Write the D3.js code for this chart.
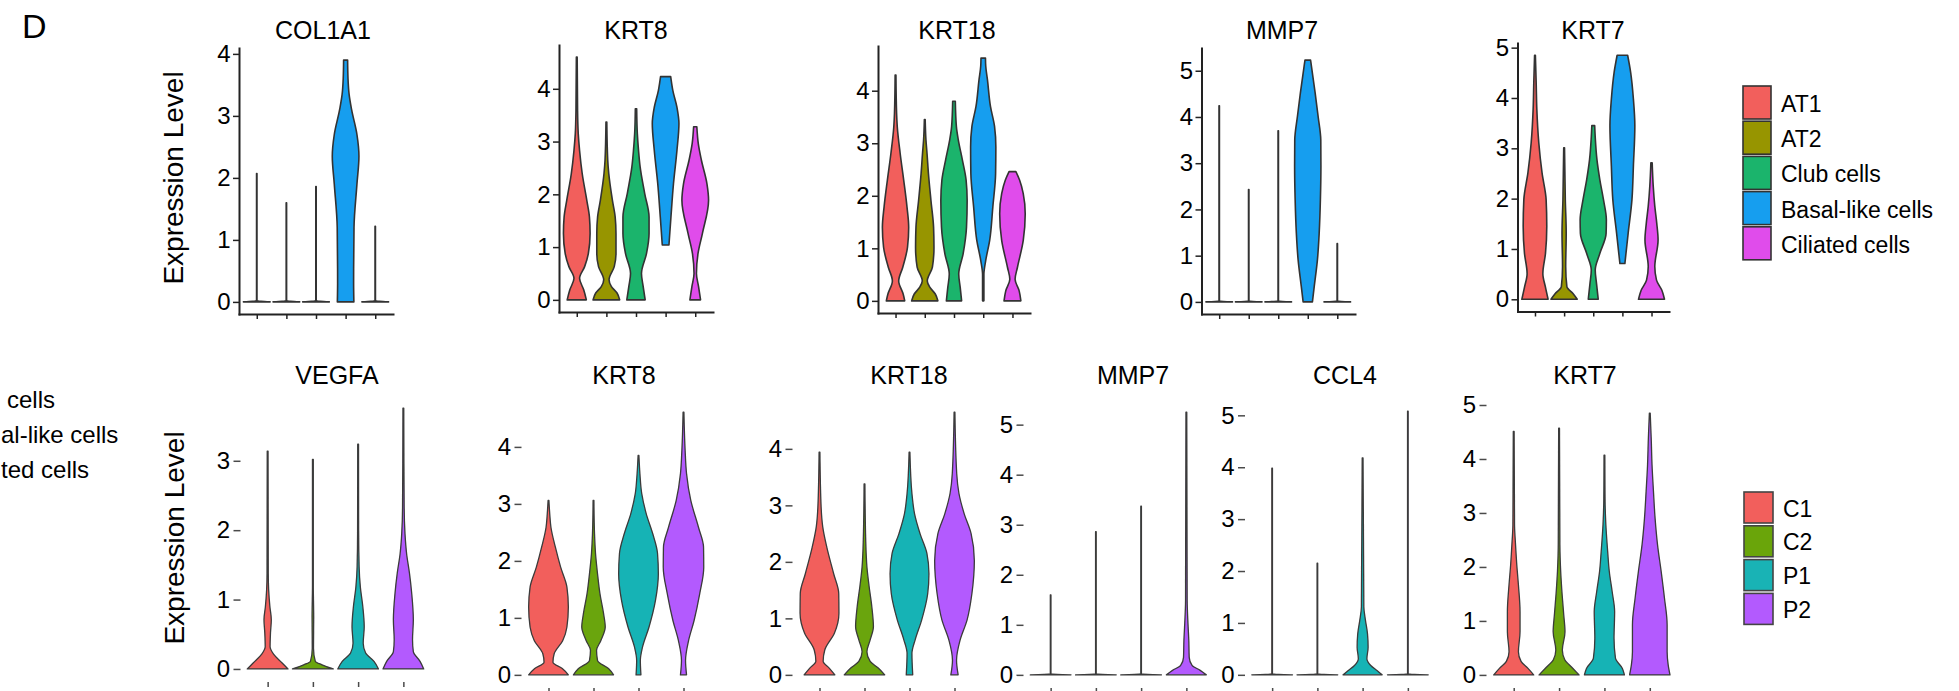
<!DOCTYPE html>
<html><head><meta charset="utf-8">
<script src="https://cdn.jsdelivr.net/npm/d3@7"></script>
<style>
html,body{margin:0;padding:0;background:#fff;overflow:hidden}
svg{display:block}
text{font-family:"Liberation Sans",Arial,Helvetica,sans-serif;fill:#000}
</style></head><body>
<svg id="chart" width="1959" height="691"></svg>
<script>
// ================= DATA =================
const topGroups = ["AT1", "AT2", "Club cells", "Basal-like cells", "Ciliated cells"];
const topColors = ["#F25F5C", "#979500", "#1BB46C", "#169EEF", "#E04CEB"];
const bottomGroups = ["C1", "C2", "P1", "P2"];
const bottomColors = ["#F25F5C", "#6AA50A", "#19B3B5", "#B35AFE"];

const topGenes = ["COL1A1", "KRT8", "KRT18", "MMP7", "KRT7"];
const bottomGenes = ["VEGFA", "KRT8", "KRT18", "MMP7", "CCL4", "KRT7"];

const topTicks = [[0,1,2,3,4],[0,1,2,3,4],[0,1,2,3,4],[0,1,2,3,4,5],[0,1,2,3,4,5]];
const bottomTicks = [[0,1,2,3],[0,1,2,3,4],[0,1,2,3,4],[0,1,2,3,4,5],[0,1,2,3,4,5],[0,1,2,3,4,5]];

// violin outlines: [expression level, relative half-width]
const topCOL1A1 = [
  [[0,1],[0.02,0.015],[2.07,0.015]],
  [[0,1],[0.02,0.015],[1.6,0.015]],
  [[0,1],[0.02,0.015],[1.86,0.015]],
  [[0,0.62],[0.3,0.6],[1.2,0.63],[1.9,0.85],[2.35,1],[2.7,0.85],[3.1,0.45],[3.35,0.26],[3.6,0.18],[3.9,0.15]],
  [[0,1],[0.02,0.015],[1.22,0.015]]
];
const topKRT8 = [
  [[0,0.72],[0.19,0.52],[0.41,0.21],[0.63,0.59],[0.88,0.87],[1.26,1.0],[1.57,0.95],[1.89,0.75],[2.39,0.41],[2.83,0.21],[3.15,0.11],[3.59,0.06],[4.6,0.03]],
  [[0,1.0],[0.13,0.8],[0.25,0.38],[0.38,0.2],[0.63,0.59],[0.88,0.72],[1.26,0.72],[1.57,0.66],[1.89,0.45],[2.39,0.18],[2.65,0.1],[3.37,0.03]],
  [[0,0.69],[0.25,0.54],[0.5,0.41],[0.88,0.79],[1.26,0.98],[1.57,0.98],[2.02,0.65],[2.52,0.31],[2.83,0.19],[3.15,0.1],[3.62,0.05]],
  [[1.04,0.25],[1.57,0.4],[2.2,0.59],[2.83,0.85],[3.34,1.0],[3.65,0.85],[3.97,0.54],[4.23,0.38]],
  [[0,0.4],[0.25,0.25],[0.5,0.09],[0.88,0.21],[1.26,0.54],[1.89,1.0],[2.2,0.88],[2.65,0.46],[2.96,0.23],[3.28,0.12]]
];
const topKRT18 = [
  [[0,0.7],[0.13,0.58],[0.38,0.24],[0.64,0.55],[1.02,0.91],[1.4,1.0],[1.79,0.87],[2.3,0.62],[2.81,0.35],[3.32,0.13],[3.57,0.08],[4.3,0.03]],
  [[0,1.0],[0.13,0.8],[0.26,0.38],[0.38,0.19],[0.64,0.58],[1.02,0.7],[1.4,0.67],[1.91,0.47],[2.42,0.28],[2.81,0.17],[3.06,0.09],[3.45,0.03]],
  [[0,0.58],[0.26,0.47],[0.51,0.36],[0.89,0.69],[1.4,0.95],[1.91,1.0],[2.3,0.92],[2.68,0.64],[3.06,0.33],[3.32,0.18],[3.8,0.1]],
  [[0,0.05],[0.5,0.05],[0.77,0.19],[1.15,0.49],[1.79,0.73],[2.42,0.94],[2.93,0.96],[3.32,0.86],[3.7,0.55],[4.21,0.32],[4.47,0.19],[4.62,0.17]],
  [[0,0.64],[0.19,0.51],[0.41,0.2],[0.64,0.38],[1.15,0.82],[1.66,0.97],[2.04,0.82],[2.3,0.54],[2.46,0.26]]
];
const topMMP7 = [
  [[0,1],[0.02,0.015],[4.24,0.015]],
  [[0,1],[0.02,0.015],[2.43,0.015]],
  [[0,1],[0.02,0.015],[3.7,0.015]],
  [[0,0.35],[0.34,0.49],[0.92,0.73],[1.49,0.86],[2.21,0.95],[2.93,0.99],[3.5,0.98],[4.01,0.78],[4.51,0.56],[5.09,0.28],[5.23,0.21]],
  [[0,1],[0.02,0.015],[1.26,0.015]]
];
const topKRT7 = [
  [[0,1.0],[0.25,0.79],[0.51,0.6],[0.91,0.8],[1.45,0.9],[1.98,0.85],[2.51,0.54],[3.11,0.29],[3.78,0.14],[4.31,0.09],[4.85,0.03]],
  [[0,1.0],[0.11,0.69],[0.25,0.21],[0.65,0.12],[1.31,0.16],[1.98,0.09],[3.01,0.03]],
  [[0,0.38],[0.31,0.25],[0.58,0.15],[0.91,0.5],[1.31,0.98],[1.58,1.0],[1.98,0.78],[2.38,0.5],[2.78,0.28],[3.18,0.16],[3.45,0.11]],
  [[0.71,0.19],[1.31,0.44],[1.98,0.73],[2.65,0.84],[3.45,0.95],[3.98,0.84],[4.51,0.63],[4.85,0.4]],
  [[0,0.99],[0.18,0.79],[0.38,0.38],[0.65,0.25],[1.18,0.5],[1.51,0.4],[1.85,0.25],[2.25,0.13],[2.71,0.05]]
];

const bottomVEGFA = [
  [[0,1.0],[0.09,0.7],[0.21,0.3],[0.32,0.12],[0.52,0.14],[0.71,0.18],[0.9,0.11],[1.14,0.05],[1.38,0.03],[3.14,0.02]],
  [[0,1.0],[0.06,0.45],[0.11,0.12],[0.3,0.03],[0.75,0.04],[1.2,0.02],[3.02,0.02]],
  [[0,1.0],[0.11,0.78],[0.23,0.37],[0.37,0.25],[0.61,0.3],[0.9,0.23],[1.18,0.11],[1.47,0.05],[2.0,0.025],[3.24,0.02]],
  [[0,1.0],[0.11,0.82],[0.25,0.49],[0.42,0.45],[0.71,0.49],[1.09,0.41],[1.38,0.3],[1.66,0.16],[1.95,0.08],[2.33,0.04],[3.76,0.02]]
];
const bottomKRT8 = [
  [[0,0.98],[0.11,0.68],[0.22,0.22],[0.37,0.28],[0.6,0.7],[0.84,0.91],[1.19,0.98],[1.54,0.91],[1.89,0.6],[2.24,0.34],[2.59,0.12],[2.83,0.06],[3.06,0.02]],
  [[0,0.99],[0.11,0.74],[0.25,0.2],[0.43,0.15],[0.6,0.36],[0.84,0.58],[1.07,0.5],[1.42,0.32],[1.77,0.2],[2.13,0.1],[2.48,0.05],[3.06,0.02]],
  [[0,0.12],[0.25,0.09],[0.49,0.2],[0.84,0.52],[1.31,0.84],[1.77,0.98],[2.13,0.94],[2.48,0.7],[2.83,0.38],[3.18,0.16],[3.53,0.07],[3.85,0.02]],
  [[0,0.15],[0.25,0.1],[0.6,0.25],[0.95,0.52],[1.42,0.8],[1.89,1.0],[2.24,0.99],[2.59,0.74],[3.06,0.36],[3.53,0.15],[3.94,0.08],[4.61,0.02]]
];
const bottomKRT18 = [
  [[0,0.76],[0.12,0.48],[0.24,0.18],[0.44,0.26],[0.74,0.74],[1.09,0.96],[1.44,0.95],[1.79,0.7],[2.26,0.36],[2.62,0.16],[2.97,0.08],[3.94,0.02]],
  [[0,1.0],[0.12,0.68],[0.24,0.28],[0.41,0.12],[0.62,0.28],[0.85,0.44],[1.21,0.36],[1.56,0.23],[1.91,0.12],[2.38,0.06],[3.38,0.02]],
  [[0,0.16],[0.38,0.12],[0.62,0.28],[0.97,0.6],[1.44,0.9],[1.79,0.96],[2.15,0.86],[2.5,0.52],[2.85,0.25],[3.21,0.12],[3.94,0.02]],
  [[0,0.18],[0.26,0.1],[0.62,0.28],[0.97,0.62],[1.44,0.86],[2.02,0.98],[2.5,0.82],[2.85,0.48],[3.21,0.22],[3.56,0.11],[4.65,0.02]]
];
const bottomMMP7 = [
  [[0,1],[0.02,0.015],[1.6,0.015]],
  [[0,1],[0.02,0.015],[2.86,0.015]],
  [[0,1],[0.02,0.015],[3.37,0.015]],
  [[0,0.98],[0.09,0.68],[0.19,0.28],[0.35,0.14],[0.69,0.12],[1.02,0.08],[1.48,0.04],[5.25,0.02]]
];
const bottomCCL4 = [
  [[0,1],[0.02,0.015],[3.98,0.015]],
  [[0,1],[0.02,0.015],[2.15,0.015]],
  [[0,0.96],[0.08,0.72],[0.18,0.4],[0.31,0.21],[0.53,0.27],[0.79,0.24],[1.05,0.14],[1.31,0.06],[4.18,0.02]],
  [[0,1],[0.02,0.015],[5.08,0.015]]
];
const bottomKRT7 = [
  [[0,0.98],[0.12,0.7],[0.25,0.36],[0.43,0.23],[0.8,0.31],[1.17,0.31],[1.67,0.23],[2.04,0.15],[2.41,0.09],[2.78,0.04],[4.51,0.02]],
  [[0,0.98],[0.12,0.68],[0.28,0.28],[0.46,0.16],[0.8,0.29],[1.11,0.23],[1.54,0.14],[1.91,0.08],[2.41,0.04],[4.57,0.02]],
  [[0,0.98],[0.12,0.88],[0.31,0.54],[0.68,0.47],[1.17,0.5],[1.54,0.38],[1.91,0.24],[2.28,0.16],[2.78,0.07],[3.27,0.03],[4.07,0.02]],
  [[0,0.99],[0.19,0.9],[0.43,0.85],[0.93,0.85],[1.42,0.72],[1.91,0.56],[2.41,0.38],[2.9,0.26],[3.4,0.18],[3.89,0.11],[4.38,0.07],[4.85,0.02]]
];

const topViolins = [topCOL1A1, topKRT8, topKRT18, topMMP7, topKRT7];
const bottomViolins = [bottomVEGFA, bottomKRT8, bottomKRT18, bottomMMP7, bottomCCL4, bottomKRT7];

const panelLetter = "D";
const yAxisTitle = "Expression Level";
// visible remainder of a neighbouring panel's legend (cut by the figure edge)
const cutLegendLabels = ["cells", "al-like cells", "ted cells"];

// ================= LAYOUT =================
const topLayout = [
  {x0: 239,   x1: 393,  top: 48, bottom: 314,   titleX: 323},
  {x0: 559,   x1: 713,  top: 45, bottom: 312,   titleX: 636},
  {x0: 878,   x1: 1030, top: 46, bottom: 313,   titleX: 957},
  {x0: 1201.5,x1: 1355, top: 48, bottom: 314,   titleX: 1282},
  {x0: 1517.5,x1: 1669, top: 43, bottom: 311.5, titleX: 1593}
];
const bottomLayout = [
  {x0: 240.5, x1: 430.5, top: 395, bottom: 682, titleX: 337},
  {x0: 521.5, x1: 710.5, top: 399, bottom: 688, titleX: 624},
  {x0: 792.5, x1: 981.5, top: 399, bottom: 688, titleX: 909},
  {x0: 1023.5,x1: 1213.5,top: 399, bottom: 688, titleX: 1133},
  {x0: 1245,  x1: 1435,  top: 398, bottom: 688, titleX: 1345},
  {x0: 1486.5,x1: 1677,  top: 400, bottom: 688, titleX: 1585}
];
const cutLegendX = [7, 1, 1];

// ================= DRAW =================
const svg = d3.select("#chart");
const defs = svg.append("defs");
defs.append("filter").attr("id", "soft")
  .attr("x", "-10%").attr("y", "-10%").attr("width", "120%").attr("height", "120%")
  .append("feGaussianBlur").attr("stdDeviation", 0.55);

function drawPanel(L, groups, colors, violins, ticks, gene, st) {
  const g = svg.append("g");
  const maxV = d3.max(violins.flat(), d => d[0]);
  const y = d3.scaleLinear().domain([-0.05 * maxV, 1.05 * maxV]).range([L.bottom, L.top]);
  const x = d3.scalePoint().domain(groups).range([L.x0, L.x1]).padding(0.6);
  const halfW = 0.45 * x.step();

  const vg = g.append("g");
  if (st.blur) vg.attr("filter", "url(#soft)");
  violins.forEach((pts, i) => {
    const cx = x(groups[i]);
    const area = d3.area()
      .curve(d3.curveMonotoneY)
      .y(d => y(d[0]))
      .x0(d => cx - d[1] * halfW)
      .x1(d => cx + d[1] * halfW);
    vg.append("path")
      .attr("d", area(pts))
      .attr("fill", colors[i])
      .attr("stroke", st.vStroke)
      .attr("stroke-width", st.vWidth)
      .attr("stroke-linejoin", "round");
  });

  const ay = g.append("g").attr("transform", `translate(${L.x0},0)`)
    .call(d3.axisLeft(y).tickValues(ticks).tickFormat(d3.format("d"))
      .tickSize(st.tick).tickSizeOuter(0).tickPadding(st.pad));
  const ax = g.append("g").attr("transform", `translate(0,${L.bottom})`)
    .call(d3.axisBottom(x).tickFormat("").tickSize(5).tickSizeOuter(0));
  [ay, ax].forEach(a => {
    a.attr("font-family", null).attr("font-size", null);
    a.select(".domain").attr("stroke", st.axis).attr("stroke-width", st.axisW).attr("stroke-linecap", "square");
    a.selectAll(".tick line").attr("stroke", st.axis).attr("stroke-width", 1.5);
    if (st.blur) a.select(".domain").attr("filter", "url(#soft)");
  });
  ay.selectAll(".tick text").style("font-size", "24px").attr("fill", "#000");

  svg.append("text").attr("x", L.titleX).attr("y", st.titleY)
    .attr("text-anchor", "middle").style("font-size", "25px").text(gene);
}

const topStyle = {vStroke: "#333", vWidth: 1.6, axis: "#222", axisW: 2, tick: 6, pad: 2.5, titleY: 39, blur: false};
const bottomStyle = {vStroke: "#3a3a3a", vWidth: 1.3, axis: "#4a4a4a", axisW: 2, tick: 7, pad: 3.5, titleY: 384, blur: true};

topGenes.forEach((gene, i) => drawPanel(topLayout[i], topGroups, topColors, topViolins[i], topTicks[i], gene, topStyle));
bottomGenes.forEach((gene, i) => drawPanel(bottomLayout[i], bottomGroups, bottomColors, bottomViolins[i], bottomTicks[i], gene, bottomStyle));

// y axis titles
[[183, 178], [183.5, 538]].forEach(([tx, ty]) => {
  svg.append("text").attr("transform", `translate(${tx},${ty}) rotate(-90)`)
    .attr("text-anchor", "middle").style("font-size", "28px").text(yAxisTitle);
});

// panel letter
svg.append("text").attr("x", 22).attr("y", 38).style("font-size", "34px").text(panelLetter);

// cut-off legend remnant of the neighbouring panel
cutLegendLabels.forEach((t, i) => {
  svg.append("text").attr("x", cutLegendX[i]).attr("y", 408 + i * 35).style("font-size", "24px").text(t);
});

// legends
function legend(labels, colors, lx, ly, step, w, h, tx, tdy, stroke) {
  const g = svg.append("g");
  labels.forEach((t, i) => {
    g.append("rect").attr("x", lx).attr("y", ly + i * step).attr("width", w).attr("height", h)
      .attr("fill", colors[i]).attr("stroke", stroke).attr("stroke-width", 1.6);
    g.append("text").attr("x", tx).attr("y", ly + i * step + tdy).style("font-size", "23px").text(t);
  });
}
legend(topGroups, topColors, 1743, 86, 35.2, 28, 33, 1781, 26, "#333");
legend(bottomGroups, bottomColors, 1744, 492, 33.8, 29, 31, 1783, 24.5, "#444");
</script>
</body></html>
